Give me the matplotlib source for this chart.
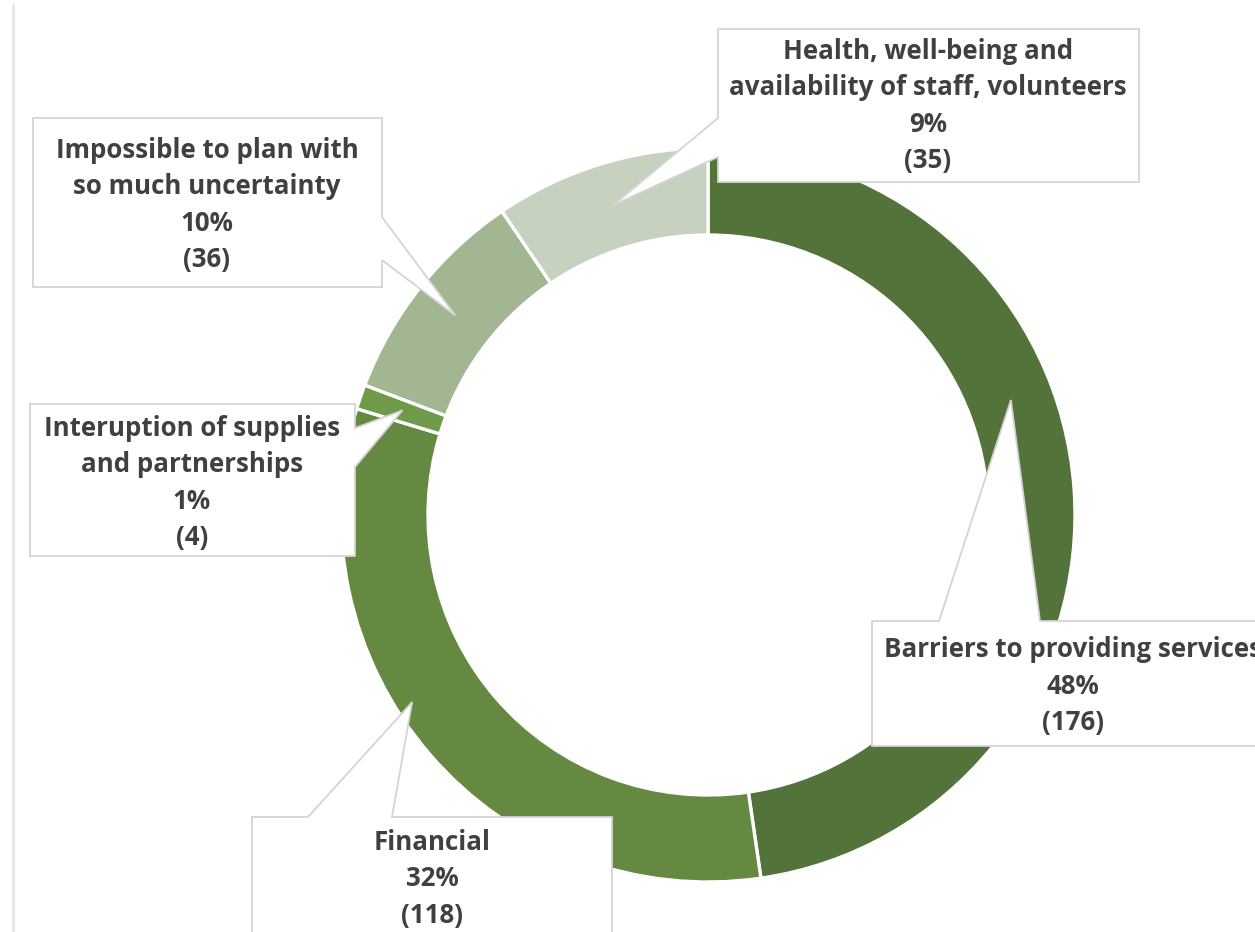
import numpy as np
import matplotlib
matplotlib.use("Agg")
import matplotlib.pyplot as plt
from matplotlib.patches import Polygon

# Survey responses: main challenges reported
categories = [
    "Barriers to providing services",
    "Financial",
    "Interuption of supplies\nand partnerships",
    "Impossible to plan with\nso much uncertainty",
    "Health, well-being and\navailability of staff, volunteers",
]
counts = [176, 118, 4, 36, 35]
colors = ["#53733A", "#668942", "#6F9A4A", "#A3B692", "#C6D2BF"]

W, H = 1255, 932
fig = plt.figure(figsize=(W / 100, H / 100), dpi=100)
ax = fig.add_axes([0, 0, 1, 1])


def py(y):
    """Convert a top-down pixel row into the upward y axis."""
    return H - y


# Donut ring
cx, cy = 708, py(515)
R_OUT, RING_W = 367, 87
ax.pie(counts, colors=colors, startangle=90, counterclock=False,
       center=(cx, cy), radius=R_OUT, frame=True,
       wedgeprops=dict(width=RING_W, edgecolor="white", linewidth=2.4))
ax.set_xlim(0, W)
ax.set_ylim(0, H)
ax.set_aspect("equal")
ax.axis("off")

# Thin frame line on the left
ax.plot([13, 13], [0, py(4)], color="#e6e6e6", lw=2.0, solid_capstyle="butt")

# Callout layout: box (x0, y0, x1, y1), side with pointer, pointer base, tip (angle cw from top, radius)
callouts = [
    dict(box=(872, 621, 1262, 746), side="top", base=(939, 1040), tip=(69.2, 324), text=(1073, 686)),
    dict(box=(252, 817, 612, 945), side="top", base=(308, 392), tip=(237.7, 350), text=(432, 879)),
    dict(box=(30, 404, 355, 556), side="right", base=(428, 467), tip=(288.9, 323), text=(192, 483)),
    dict(box=(33, 118, 382, 287), side="right", base=(217, 260), tip=(308.3, 322), text=(207, 205)),
    dict(box=(718, 29, 1139, 182), side="left", base=(118, 157), tip=(343.0, 324), text=(928, 106)),
]

total = sum(counts)
for name, n, c in zip(categories, counts, callouts):
    x0, y0, x1, y1 = c["box"]
    a = np.deg2rad(c["tip"][0])
    tx = cx + c["tip"][1] * np.sin(a)
    ty = cy + c["tip"][1] * np.cos(a)
    b0, b1 = c["base"]
    if c["side"] == "top":
        pts = [(x0, py(y0)), (b0, py(y0)), (tx, ty), (b1, py(y0)),
               (x1, py(y0)), (x1, py(y1)), (x0, py(y1))]
    elif c["side"] == "right":
        pts = [(x0, py(y0)), (x1, py(y0)), (x1, py(b0)), (tx, ty),
               (x1, py(b1)), (x1, py(y1)), (x0, py(y1))]
    else:  # left
        pts = [(x0, py(y0)), (x1, py(y0)), (x1, py(y1)), (x0, py(y1)),
               (x0, py(b1)), (tx, ty), (x0, py(b0))]
    ax.add_patch(Polygon(pts, closed=True, facecolor="white",
                         edgecolor="#d4d4d4", linewidth=1.3, zorder=5))
    pct = round(100 * n / total)
    label = f"{name}\n{pct}%\n({n})"
    ax.text(c["text"][0], py(c["text"][1]), label, ha="center", va="center",
            fontsize=18.6, fontweight="bold", family="Open Sans",
            color="#404040", linespacing=1.45, zorder=6)

fig.savefig("out.png", dpi=100, facecolor="white")
